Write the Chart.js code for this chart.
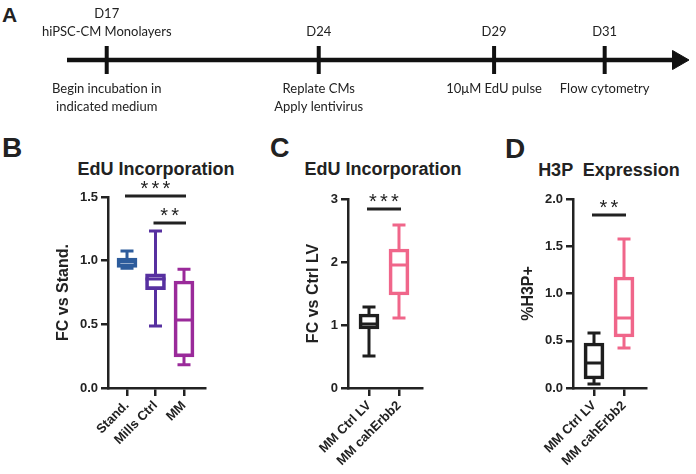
<!DOCTYPE html>
<html>
<head>
<meta charset="utf-8">
<script src="https://cdn.jsdelivr.net/npm/chart.js@4.4.1/dist/chart.umd.min.js"></script>
<style>
  body { margin: 0; background: #fff; }
  #fig { position: relative; width: 696px; height: 474px; overflow: hidden;
         font-family: Arial, Helvetica, "Liberation Sans", sans-serif; color: #222; }
  .box { position: absolute; }
  .letter { position: absolute; font-weight: bold; line-height: 1; }
  .ttl { position: absolute; width: 200px; text-align: center; font-weight: bold;
         font-size: 18px; line-height: 1; white-space: pre; }
</style>
</head>
<body>
<div id="fig">
  <div class="letter" style="left:2px;top:4px;font-size:21px">A</div>
  <div class="letter" style="left:2px;top:134px;font-size:28px">B</div>
  <div class="letter" style="left:270px;top:135px;font-size:27px">C</div>
  <div class="letter" style="left:505px;top:135px;font-size:28px">D</div>

  <div class="ttl" style="left:56px;top:160px">EdU Incorporation</div>
  <div class="ttl" style="left:283px;top:160px">EdU Incorporation</div>
  <div class="ttl" style="left:509px;top:161px">H3P  Expression</div>

  <div class="box" style="left:0;top:0;width:696px;height:120px"><canvas id="timeline"></canvas></div>
  <div class="box" style="left:50px;top:170px;width:170px;height:304px"><canvas id="chartB"></canvas></div>
  <div class="box" style="left:300px;top:170px;width:142px;height:304px"><canvas id="chartC"></canvas></div>
  <div class="box" style="left:515px;top:170px;width:151px;height:304px"><canvas id="chartD"></canvas></div>
</div>

<script>
// ---- timeline (panel A) ----
var tlDays = ['D17', 'D24', 'D29', 'D31'];
var tlTopNote = ['hiPSC-CM Monolayers', '', '', ''];
var tlBottom = [['Begin incubation in', 'indicated medium'], ['Replate CMs', 'Apply lentivirus'], ['10μM EdU pulse'], ['Flow cytometry']];
var tlPos = [0.065, 0.412, 0.699, 0.880];   // place along the arrow (0 = start, 1 = head)

// ---- panel B ----
var bGroups = ['Stand.', 'Mills Ctrl', 'MM'];
var bMin = [0.94, 0.487, 0.183];
var bQ1 = [0.947, 0.772, 0.244];
var bMed = [0.99, 0.856, 0.534];
var bQ3 = [1.02, 0.896, 0.84];
var bMax = [1.076, 1.233, 0.932];
var bSig = [{ a: 0, b: 2, v: 1.508, stars: 3 }, { a: 1, b: 2, v: 1.296, stars: 2 }];

// ---- panel C ----
var cGroups = ['MM Ctrl LV', 'MM cahErbb2'];
var cMin = [0.508, 1.111];
var cQ1 = [0.937, 1.476];
var cMed = [1.016, 1.952];
var cQ3 = [1.175, 2.206];
var cMax = [1.286, 2.587];
var cSig = [{ a: 0, b: 1, v: 2.84, stars: 3 }];

// ---- panel D ----
var dGroups = ['MM Ctrl LV', 'MM cahErbb2'];
var dMin = [0.042, 0.423];
var dQ1 = [0.095, 0.54];
var dMed = [0.265, 0.741];
var dQ3 = [0.476, 1.175];
var dMax = [0.582, 1.577];
var dSig = [{ a: 0, b: 1, v: 1.83, stars: 2 }];

var INK = '#222';
var FONT = 'Arial, Helvetica, "Liberation Sans", sans-serif';

// timeline labels
var timelineText = {
    id: 'timelineText',
    afterDatasetsDraw: function (chart) {
        var ctx = chart.ctx;
        var x = chart.scales.x;
        var y0 = chart.scales.y.getPixelForValue(0);
        ctx.save();
        ctx.font = '13px Lato';
        ctx.fillStyle = INK;
        ctx.textAlign = 'center';
        ctx.textBaseline = 'middle';
        for (let i = 0; i < tlDays.length; i++) {
            let px = x.getPixelForValue(tlPos[i]);
            let top = tlTopNote[i] ? [tlDays[i], tlTopNote[i]] : [tlDays[i]];
            top.forEach(function (t, k) {
                ctx.fillText(t, px, y0 - 28 - (top.length - 1 - k) * 18);
            });
            tlBottom[i].forEach(function (t, k) {
                ctx.fillText(t, px, y0 + 29 + k * 18);
            });
        }
        ctx.restore();
    }
};

new Chart(document.getElementById('timeline'), {
    type: 'scatter',
    data: {
        datasets: [
            { data: [{ x: 0, y: 0 }, { x: 1, y: 0 }], showLine: true, borderColor: '#111', borderWidth: 4.5, pointRadius: 0, clip: false },
            { data: tlPos.map(function (p) { return { x: p, y: 0 }; }), pointStyle: 'line', pointRotation: 90,
              pointRadius: 14, pointBorderWidth: 4, pointBorderColor: '#111', clip: false },
            { data: [{ x: 1, y: 0 }], pointStyle: 'triangle', pointRotation: 90, pointRadius: 11,
              pointBackgroundColor: '#111', pointBorderColor: '#111', pointBorderWidth: 1, clip: false }
        ]
    },
    options: {
        responsive: true, maintainAspectRatio: false, animation: false, events: [],
        layout: { padding: { left: 67, right: 12, top: 0, bottom: 0 } },
        plugins: { legend: { display: false }, tooltip: { enabled: false } },
        scales: {
            x: { type: 'linear', display: false, min: 0, max: 1 },
            y: { type: 'linear', display: false, min: -1, max: 1 }
        }
    },
    plugins: [timelineText]
});

// whiskers, caps, medians and significance bars
function boxParts(s) {
    return {
        id: 'boxParts',
        afterDatasetsDraw: function (chart) {
            var ctx = chart.ctx, x = chart.scales.x, y = chart.scales.y;
            ctx.save();
            ctx.lineWidth = 3;
            for (let i = 0; i < s.groups.length; i++) {
                let cx = x.getPixelForValue(i);
                ctx.strokeStyle = s.colors[i];
                ctx.beginPath();
                ctx.moveTo(cx, y.getPixelForValue(s.q3[i]));
                ctx.lineTo(cx, y.getPixelForValue(s.max[i]));
                ctx.moveTo(cx, y.getPixelForValue(s.q1[i]));
                ctx.lineTo(cx, y.getPixelForValue(s.min[i]));
                [s.min[i], s.max[i]].forEach(function (v) {
                    let py = y.getPixelForValue(v);
                    ctx.moveTo(cx - 6.5, py);
                    ctx.lineTo(cx + 6.5, py);
                });
                let pm = y.getPixelForValue(s.med[i]);
                ctx.moveTo(cx - 10, pm);
                ctx.lineTo(cx + 10, pm);
                ctx.stroke();
            }
            ctx.strokeStyle = INK;
            ctx.fillStyle = INK;
            ctx.font = '20px ' + FONT;
            ctx.textAlign = 'center';
            ctx.textBaseline = 'alphabetic';
            s.sig.forEach(function (g) {
                let xa = x.getPixelForValue(g.a) - 2, xb = x.getPixelForValue(g.b) + 2;
                let py = y.getPixelForValue(g.v);
                ctx.beginPath();
                ctx.moveTo(xa, py);
                ctx.lineTo(xb, py);
                ctx.stroke();
                let mid = (xa + xb) / 2;
                for (let k = 0; k < g.stars; k++) {
                    ctx.fillText('*', mid + (k - (g.stars - 1) / 2) * 11, py - 1);
                }
            });
            ctx.restore();
        }
    };
}

function boxChart(id, s) {
    var tickFont = { family: FONT, size: 13, weight: 'bold' };
    return new Chart(document.getElementById(id), {
        type: 'bar',
        data: {
            datasets: [{
                data: s.groups.map(function (g, i) { return { x: i, y: [s.q1[i], s.q3[i]] }; }),
                backgroundColor: 'rgba(0,0,0,0)',
                borderColor: s.colors,
                borderWidth: 3,
                borderSkipped: false,
                barThickness: 20
            }]
        },
        options: {
            responsive: true, maintainAspectRatio: false, animation: false, events: [],
            layout: { padding: { left: 0, right: s.padRight, top: s.padTop, bottom: 0 } },
            plugins: { legend: { display: false }, tooltip: { enabled: false } },
            scales: {
                x: {
                    type: 'linear', min: s.xMin, max: s.xMax, offset: false,
                    afterBuildTicks: function (sc) { sc.ticks = s.groups.map(function (g, i) { return { value: i }; }); },
                    afterFit: function (sc) { sc.height = 86; },
                    ticks: { autoSkip: false, minRotation: 45, maxRotation: 45, padding: 2, color: INK, font: tickFont,
                             callback: function (v) { return s.groups[v]; } },
                    grid: { offset: false, drawOnChartArea: false, drawTicks: true, tickLength: 8, color: INK, lineWidth: 2.5 },
                    border: { display: true, color: INK, width: 2.5 }
                },
                y: {
                    min: 0, max: s.yMax,
                    afterFit: function (sc) { sc.width = s.yWidth; },
                    ticks: { stepSize: s.yStep, padding: 3, color: INK, font: tickFont,
                             callback: function (v) { return v.toFixed(s.yDec); } },
                    grid: { drawOnChartArea: false, drawTicks: true, tickLength: 7, color: INK, lineWidth: 2.5 },
                    border: { display: true, color: INK, width: 2.5 },
                    title: { display: true, text: s.yTitle, color: INK, font: { family: FONT, size: 16, weight: 'bold' } }
                }
            }
        },
        plugins: [boxParts(s)]
    });
}

boxChart('chartB', {
    groups: bGroups, min: bMin, q1: bQ1, med: bMed, q3: bQ3, max: bMax, sig: bSig,
    colors: ['#2d5c9c', '#5730a0', '#9a2a9a'],
    yMax: 1.5, yStep: 0.5, yDec: 1, yTitle: 'FC vs Stand.',
    xMin: -0.667, xMax: 2.737, yWidth: 58, padTop: 27, padRight: 15
});

boxChart('chartC', {
    groups: cGroups, min: cMin, q1: cQ1, med: cMed, q3: cQ3, max: cMax, sig: cSig,
    colors: ['#1e1e1e', '#f0668a'],
    yMax: 3, yStep: 1, yDec: 0, yTitle: 'FC vs Ctrl LV',
    xMin: -0.7, xMax: 1.767, yWidth: 48, padTop: 29, padRight: 20
});

boxChart('chartD', {
    groups: dGroups, min: dMin, q1: dQ1, med: dMed, q3: dQ3, max: dMax, sig: dSig,
    colors: ['#1e1e1e', '#f0668a'],
    yMax: 2, yStep: 0.5, yDec: 1, yTitle: '%H3P+',
    xMin: -0.7, xMax: 1.733, yWidth: 58, padTop: 29, padRight: 20
});
</script>
</body>
</html>
